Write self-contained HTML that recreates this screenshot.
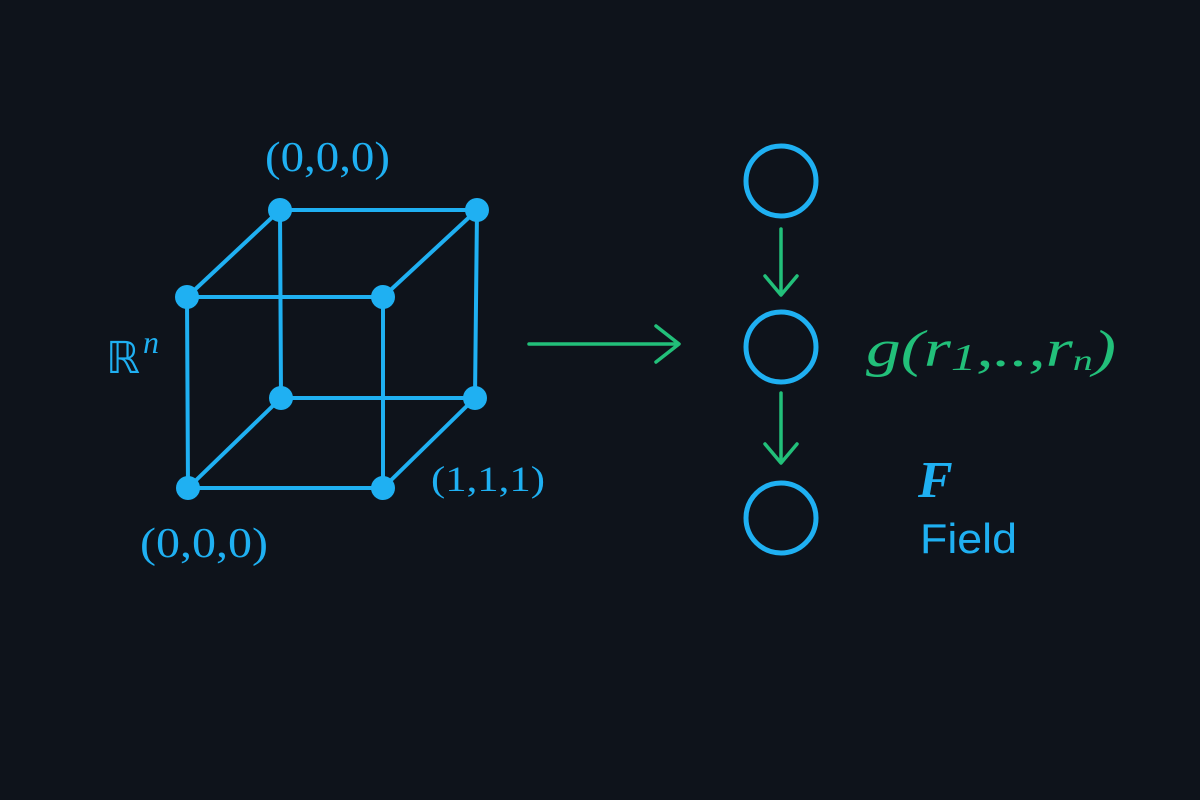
<!DOCTYPE html>
<html><head><meta charset="utf-8"><style>
html,body{margin:0;padding:0;background:#0e131b;}
svg{display:block}
</style></head><body>
<svg width="1200" height="800" viewBox="0 0 1200 800" xmlns="http://www.w3.org/2000/svg">
<rect width="1200" height="800" fill="#0e131b"/>
<g stroke="#1fb0f2" stroke-width="4" fill="none" stroke-linecap="round">
<line x1="280" y1="210" x2="477" y2="210"/>
<line x1="187" y1="297" x2="383" y2="297"/>
<line x1="281" y1="398" x2="475" y2="398"/>
<line x1="188" y1="488" x2="383" y2="488"/>
<line x1="187" y1="297" x2="188" y2="488"/>
<line x1="280" y1="210" x2="281" y2="398"/>
<line x1="383" y1="297" x2="383" y2="488"/>
<line x1="477" y1="210" x2="475" y2="398"/>
<line x1="280" y1="210" x2="187" y2="297"/>
<line x1="477" y1="210" x2="383" y2="297"/>
<line x1="281" y1="398" x2="188" y2="488"/>
<line x1="475" y1="398" x2="383" y2="488"/>
</g>
<g fill="#1fb0f2">
<circle cx="280" cy="210" r="12"/><circle cx="477" cy="210" r="12"/>
<circle cx="187" cy="297" r="12"/><circle cx="383" cy="297" r="12"/>
<circle cx="281" cy="398" r="12"/><circle cx="475" cy="398" r="12"/>
<circle cx="188" cy="488" r="12"/><circle cx="383" cy="488" r="12"/>
</g>
<g fill="none" stroke="#1fb0f2" stroke-width="5">
<circle cx="781" cy="181" r="35"/>
<circle cx="781" cy="347" r="35"/>
<circle cx="781" cy="518" r="35"/>
</g>
<g stroke="#22c07a" stroke-width="3.5" fill="none" stroke-linecap="round" stroke-linejoin="round">
<line x1="529" y1="344" x2="678" y2="344"/>
<polyline points="656,326 679,344 656,362"/>
<line x1="781" y1="229" x2="781" y2="294"/>
<polyline points="765,276 781,295 797,276"/>
<line x1="781" y1="393" x2="781" y2="462"/>
<polyline points="765,444 781,463 797,444"/>
</g>
<g fill="#1fb0f2" font-family="Liberation Serif, DejaVu Serif, serif">
<text x="265" y="171" font-size="42" textLength="125" lengthAdjust="spacingAndGlyphs">(0,0,0)</text>
<text x="140" y="557" font-size="42" textLength="128" lengthAdjust="spacingAndGlyphs">(0,0,0)</text>
<text x="431" y="491" font-size="36" textLength="114" lengthAdjust="spacingAndGlyphs">(1,1,1)</text>
<text x="106" y="373" font-size="44" font-family="DejaVu Sans, sans-serif" textLength="34" lengthAdjust="spacingAndGlyphs">ℝ</text>
<text x="143" y="353" font-size="32" font-style="italic">n</text>
<text x="918" y="497" font-size="52" font-style="italic" font-weight="bold">F</text>
<text x="920" y="553" font-size="42" font-family="Liberation Sans, sans-serif" textLength="97" lengthAdjust="spacingAndGlyphs">Field</text>
</g>
<text x="866" y="366" fill="#22c07a" font-family="Liberation Serif, DejaVu Serif, serif" font-size="52" font-style="italic" textLength="250" lengthAdjust="spacingAndGlyphs">g(r<tspan font-size="38" dy="4">1</tspan><tspan dy="-4">,..,r</tspan><tspan font-size="30" dy="4">n</tspan><tspan dy="-4">)</tspan></text>
</svg>
</body></html>
